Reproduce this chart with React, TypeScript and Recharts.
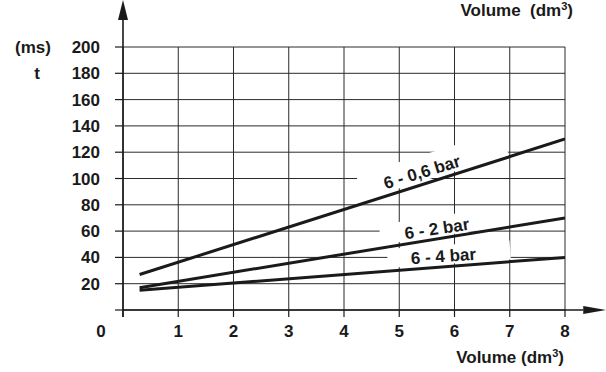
import React from 'react';
import { LineChart, Line, XAxis, YAxis, CartesianGrid, ReferenceLine, ReferenceDot, Label } from 'recharts';

// volume (dm3) at the start and end of every curve
const volumeEnds = [0.3, 8];
// switching time (ms) at those volumes
const time06 = [27, 130];
const time2 = [17, 70];
const time4 = [15, 40];
const seriesNames = ['6 - 0,6 bar', '6 - 2 bar', '6 - 4 bar'];

const xTicks = [0, 1, 2, 3, 4, 5, 6, 7, 8];
const yTicks = [0, 20, 40, 60, 80, 100, 120, 140, 160, 180, 200];

const toPoints = (ys: number[]) => volumeEnds.map((v, i) => ({ volume: v, time: ys[i] }));
const series = [time06, time2, time4].map((ys, i) => ({ name: seriesNames[i], data: toPoints(ys) }));

// where the curve captions sit (data units) and how they are tilted / boxed
const captionLayout = [
  { x: 5.41, y: 105, angle: -17, box: [-64, -16, 152, 25] },
  { x: 5.68, y: 62, angle: -8.5, box: [-57, -12, 102, 20] },
  { x: 5.8, y: 41, angle: -4, box: [-56, -11, 123, 19] },
];

const INK = '#1a1a1a';
const FONT = '"Liberation Sans", Arial, Helvetica, sans-serif';
const textStyle = { fontFamily: FONT, fontWeight: 700, fill: INK };

const XTick = (props: any) => {
  const { x, y, payload } = props;
  const tx = payload.value === 0 ? x - 22 : x;
  return (
    <text x={tx} y={y} dy="0.71em" textAnchor="middle" fontSize={17} style={textStyle}>
      {payload.value}
    </text>
  );
};

const YTick = (props: any) => {
  const { x, y, payload } = props;
  if (payload.value === 0) return null;
  return (
    <text x={x} y={y} dy="0.355em" textAnchor="end" fontSize={17} style={textStyle}>
      {payload.value}
    </text>
  );
};

const arrowShape = (dir: 'x' | 'y', len: number, half: number) => (p: any) => {
  const { x1, y1, x2, y2 } = p;
  const pts =
    dir === 'x'
      ? `${x2},${y2 - half} ${x2 + len},${y2} ${x2},${y2 + half}`
      : `${x2 - half},${y2} ${x2},${y2 - len} ${x2 + half},${y2}`;
  return (
    <g>
      <line x1={x1} y1={y1} x2={x2} y2={y2} stroke={INK} strokeWidth={1.6} />
      <polygon points={pts} fill={INK} />
    </g>
  );
};

const captionShape = (i: number) => (p: any) => {
  const { cx, cy } = p;
  const c = captionLayout[i];
  const [bx, by, bw, bh] = c.box;
  return (
    <g transform={`translate(${cx},${cy}) rotate(${c.angle})`}>
      <rect x={bx} y={by} width={bw} height={bh} fill="#fff" />
      <text x={0} y={0} dy="0.35em" textAnchor="middle" fontSize={17} style={textStyle}>
        {seriesNames[i]}
      </text>
    </g>
  );
};

const xTitles = (props: any) => {
  const vb = props.viewBox || { x: 123, y: 310, width: 442, height: 62 };
  const right = vb.x + vb.width;
  return (
    <g>
      <text x={right + 8} y={16} textAnchor="end" fontSize={17} style={{ ...textStyle, whiteSpace: 'pre' }}>
        {'Volume  (dm'}
        <tspan dy={-6} fontSize={11}>3</tspan>
        <tspan dy={6}>)</tspan>
      </text>
      <text x={right - 1} y={vb.y + 53} textAnchor="end" fontSize={17} style={textStyle}>
        {'Volume (dm'}
        <tspan dy={-6} fontSize={11}>3</tspan>
        <tspan dy={6}>)</tspan>
      </text>
    </g>
  );
};

const yTitles = () => (
  <g>
    <text x={33} y={53} textAnchor="middle" fontSize={17} style={textStyle}>(ms)</text>
    <text x={37} y={79} textAnchor="middle" fontSize={17} style={textStyle}>t</text>
  </g>
);

export default function App() {
  return (
    <div style={{ width: 606, height: 372, background: '#fff' }}>
      <style>{'body{margin:0;background:#fff}'}</style>
      <LineChart width={606} height={372} margin={{ top: 47, right: 41, left: 0, bottom: 0 }}>
        <CartesianGrid stroke="#2a2a2a" strokeWidth={1} />
        <XAxis
          type="number"
          dataKey="volume"
          domain={[0, 8]}
          ticks={xTicks}
          allowDataOverflow
          height={62}
          axisLine={false}
          tickLine={{ stroke: INK, strokeWidth: 1.2 }}
          tickSize={7}
          tickMargin={8}
          tick={<XTick />}
          interval={0}
        >
          <Label content={xTitles} />
        </XAxis>
        <YAxis
          type="number"
          dataKey="time"
          domain={[0, 200]}
          ticks={yTicks}
          allowDataOverflow
          width={123}
          axisLine={false}
          tickLine={{ stroke: INK, strokeWidth: 1.2 }}
          tickSize={8}
          tickMargin={15}
          tick={<YTick />}
          interval={0}
        >
          <Label content={yTitles} />
        </YAxis>
        <ReferenceLine
          segment={[{ x: 0, y: -5.3 }, { x: 0, y: 220.5 }]}
          ifOverflow="visible"
          shape={arrowShape('y', 20, 5)}
        />
        <ReferenceLine
          segment={[{ x: 0, y: 0 }, { x: 8.33, y: 0 }]}
          ifOverflow="visible"
          shape={arrowShape('x', 23, 4)}
        />
        {captionLayout.map((c, i) => (
          <ReferenceDot key={seriesNames[i]} x={c.x} y={c.y} r={1} ifOverflow="visible" shape={captionShape(i)} />
        ))}
        {series.map((s) => (
          <Line
            key={s.name}
            data={s.data}
            dataKey="time"
            name={s.name}
            type="linear"
            stroke={INK}
            strokeWidth={3}
            dot={false}
            activeDot={false}
            isAnimationActive={false}
          />
        ))}
      </LineChart>
    </div>
  );
}
